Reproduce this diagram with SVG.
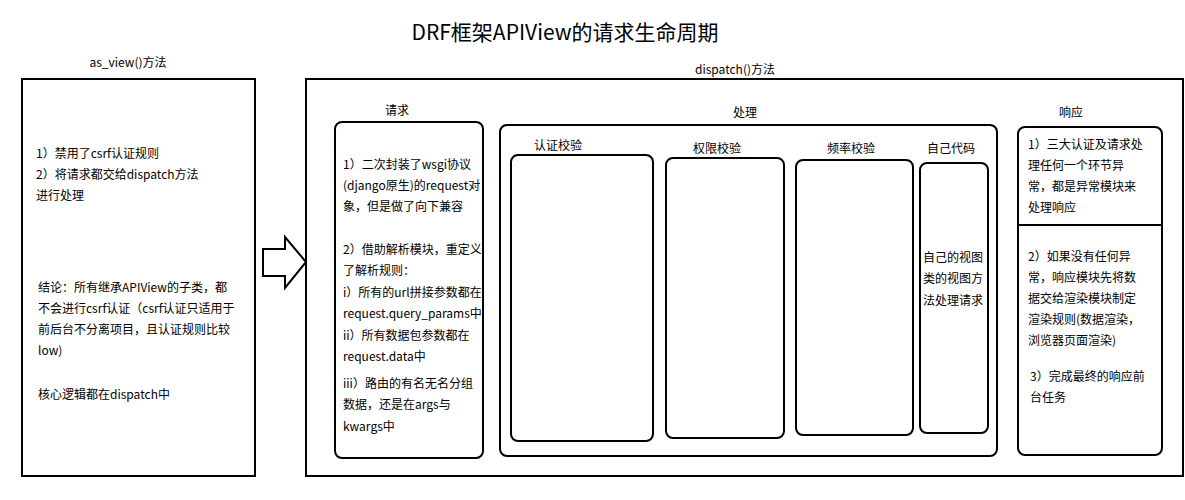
<svg xmlns="http://www.w3.org/2000/svg" width="1185" height="500" viewBox="0 0 1185 500">
<style>
text{font-family:"Noto Sans CJK SC","Noto Sans",sans-serif;font-size:12px;fill:#000}
.b{fill:#fff;stroke:#000;stroke-width:2}
.t{font-size:21px}
.c{text-anchor:middle}
</style>
<rect width="1185" height="500" fill="#fff"/>
<text class="t c" x="565" y="40">DRF框架APIView的请求生命周期</text>
<g id="asview">
<text class="c" x="128" y="67">as_view()方法</text>
<rect class="b" x="22" y="79" width="233" height="397"/>
<text x="36" y="158">1）禁用了csrf认证规则</text>
<text x="36" y="179">2）将请求都交给dispatch方法</text>
<text x="36" y="200">进行处理</text>
<text x="38" y="292">结论：所有继承APIView的子类，都</text>
<text x="38" y="313">不会进行csrf认证（csrf认证只适用于</text>
<text x="38" y="334">前后台不分离项目，且认证规则比较</text>
<text x="38" y="355">low)</text>
<text x="38" y="399">核心逻辑都在dispatch中</text>
</g>
<g id="connectors">
<polygon class="b" points="263,249 285,249 285,237 306,262 285,288 285,276 263,276"/>
</g>
<g id="dispatch">
<text class="c" x="735" y="74">dispatch()方法</text>
<rect class="b" x="306" y="79" width="877" height="397"/>
</g>
<g id="request">
<text class="c" x="397" y="115">请求</text>
<rect class="b" x="335" y="122" width="148" height="336" rx="7"/>
<text x="343" y="169">1）二次封装了wsgi协议</text>
<text x="343" y="190">(django原生)的request对</text>
<text x="343" y="211">象，但是做了向下兼容</text>
<text x="343" y="254">2）借助解析模块，重定义</text>
<text x="343" y="275">了解析规则：</text>
<text x="343" y="297">i）所有的url拼接参数都在</text>
<text x="343" y="318">request.query_params中</text>
<text x="343" y="340">ii）所有数据包参数都在</text>
<text x="343" y="361">request.data中</text>
<text x="343" y="388">iii）路由的有名无名分组</text>
<text x="343" y="409">数据，还是在args与</text>
<text x="343" y="431">kwargs中</text>
</g>
<g id="process">
<text class="c" x="745" y="117">处理</text>
<rect class="b" x="500" y="125" width="497" height="331" rx="7"/>
</g>
<g id="auth"><text class="c" x="558" y="150">认证校验</text><rect class="b" x="511" y="155" width="142" height="286" rx="7"/></g>
<g id="perm"><text class="c" x="717" y="153">权限校验</text><rect class="b" x="666" y="158" width="118" height="280" rx="7"/></g>
<g id="throttle"><text class="c" x="851" y="153">频率校验</text><rect class="b" x="796" y="160" width="117" height="275" rx="7"/></g>
<g id="own">
<text class="c" x="951" y="153">自己代码</text>
<rect class="b" x="920" y="163" width="68" height="270" rx="7"/>
<text x="923" y="262">自己的视图</text>
<text x="923" y="283">类的视图方</text>
<text x="923" y="305">法处理请求</text>
</g>
<g id="response">
<text class="c" x="1071" y="117">响应</text>
<rect class="b" x="1018" y="127" width="144" height="328" rx="7"/>
<line x1="1018" y1="225" x2="1162" y2="225" stroke="#000" stroke-width="2"/>
<text x="1028" y="149">1）三大认证及请求处</text>
<text x="1028" y="170">理任何一个环节异</text>
<text x="1028" y="191">常，都是异常模块来</text>
<text x="1028" y="212">处理响应</text>
<text x="1028" y="261">2）如果没有任何异</text>
<text x="1028" y="282">常，响应模块先将数</text>
<text x="1028" y="303">据交给渲染模块制定</text>
<text x="1028" y="324">渲染规则(数据渲染，</text>
<text x="1028" y="345">浏览器页面渲染)</text>
<text x="1030" y="381">3）完成最终的响应前</text>
<text x="1030" y="402">台任务</text>
</g>
</svg>
